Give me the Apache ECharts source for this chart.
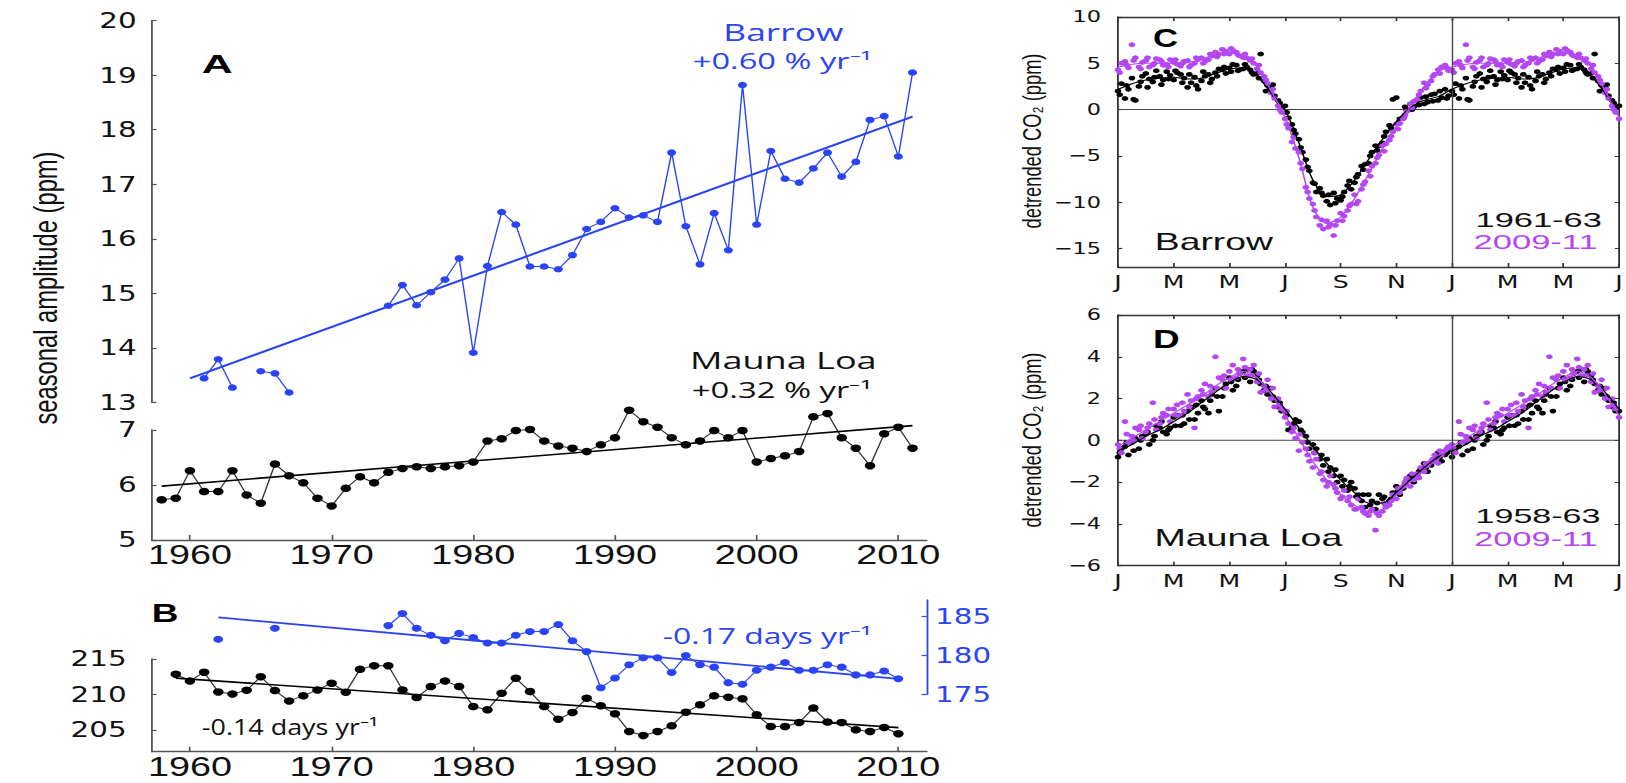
<!DOCTYPE html>
<html>
<head>
<meta charset="utf-8">
<title>Seasonal CO2 amplitude and phase</title>
<script src="https://cdn.jsdelivr.net/npm/echarts@6/dist/echarts.min.js"></script>
<style>
  html, body { margin: 0; padding: 0; background: #fff; overflow: hidden; }
  #stage { position: relative; width: 1626px; height: 783px; overflow: hidden; background: #fff; }
  #chart { position: absolute; left: 0; top: 0; height: 783px; transform-origin: 0 0; }
</style>
</head>
<body>
<div id="stage"><div id="chart"></div></div>
<script>
// ---------------------------------------------------------------------------
// Data
// ---------------------------------------------------------------------------
const range = (a, b) => Array.from({ length: b - a + 1 }, (_, i) => a + i);

// Panel A: seasonal amplitude (ppm)
const barrowAmpYears = range(1961, 2011);
const barrowAmp = [
  13.44, 13.79, 13.27, null, 13.57, 13.53, 13.18, null, null, null,   // 1961-1970
  null, null, null, 14.77, 15.15, 14.78, 15.02, 15.25, 15.64, 13.91,  // 1971-1980
  15.50, 16.49, 16.26, 15.49, 15.49, 15.44, 15.70, 16.18, 16.31, 16.56, // 1981-1990
  16.39, 16.43, 16.31, 17.58, 16.23, 15.53, 16.47, 15.79, 18.82, 16.26, // 1991-2000
  17.61, 17.10, 17.03, 17.29, 17.58, 17.14, 17.41, 18.18, 18.25, 17.51, // 2001-2010
  19.05                                                                // 2011
];
const barrowAmpTrend = [[1960, 13.44], [2011, 18.24]];

const mloAmpYears = range(1958, 2011);
const mloAmp = [
  5.73, 5.76,                                                   // 1958-1959
  6.26, 5.88, 5.88, 6.26, 5.82, 5.67, 6.38, 6.17, 6.04, 5.76,   // 1960-1969
  5.62, 5.94, 6.15, 6.04, 6.23, 6.30, 6.33, 6.30, 6.33, 6.35,   // 1970-1979
  6.42, 6.80, 6.84, 6.99, 7.01, 6.80, 6.71, 6.67, 6.61, 6.73,   // 1980-1989
  6.86, 7.36, 7.15, 7.05, 6.86, 6.73, 6.80, 6.99, 6.86, 6.99,   // 1990-1999
  6.42, 6.48, 6.53, 6.61, 7.24, 7.30, 6.86, 6.67, 6.35, 6.93,   // 2000-2009
  7.05, 6.67                                                    // 2010-2011
];
const mloAmpTrend = [[1958, 5.98], [2011, 7.08]];

// Panel B: phase (day of year)
const mloPhaseYears = range(1959, 2010);
const mloPhase = [
  212.85,                                                                  // 1959
  211.90, 213.13, 210.35, 210.07, 210.59, 212.50, 210.54, 209.08, 209.79, 210.63, // 1960-1969
  211.58, 210.31, 213.55, 214.06, 214.06, 210.63, 209.55, 211.10, 211.90, 211.10, // 1970-1979
  208.28, 207.82, 210.17, 212.28, 210.39, 208.28, 206.50, 207.44, 209.46, 208.38, // 1980-1989
  207.25, 204.76, 204.20, 204.76, 205.56, 207.49, 208.52, 209.79, 209.61, 209.37, // 1990-1999
  207.11, 205.46, 205.46, 206.03, 208.06, 206.08, 206.03, 205.00, 204.76, 205.32, // 2000-2009
  204.44                                                                   // 2010
];
const mloPhaseTrend = [[1959, 212.3], [2010, 205.3]];

const barrowPhaseYears = range(1962, 2010);
const barrowPhase = [
  182.1, null, null, null, 183.5, null, null, null,                 // 1962-1969
  null, null, null, null, 183.85, 185.4, 183.5, 182.6, 181.9, 182.85, // 1970-1979
  182.3, 181.6, 181.6, 182.6, 183.1, 183.1, 184.0, 181.9, 180.5, 175.85, // 1980-1989
  177.1, 178.8, 179.7, 179.7, 177.8, 180.0, 178.8, 178.5, 176.5, 176.3, // 1990-1999
  178.1, 178.5, 179.1, 178.1, 178.1, 178.8, 178.5, 177.5, 177.5, 178.0, // 2000-2009
  177.0                                                              // 2010
];
const barrowPhaseTrend = [[1962, 184.9], [2010, 177.0]];

const yearTicks = [1960, 1970, 1980, 1990, 2000, 2010];

// Panels C and D: detrended CO2 against month of year (0 = 1 Jan).
// Observations every quarter month, three interleaved sets (offsets 0, 1/16, 1/8 month).
const monthLetters = ['J', 'M', 'M', 'J', 'S', 'N', 'J', 'M', 'M', 'J'];

const brwEarlyA = [
  2.0, 1.2, 3.4, 2.5, 3.9, 3.0, 3.6, 4.1, 3.2, 3.8, 2.4, 3.5,
  3.1, 3.8, 4.0, 4.3, 4.5, 4.8, 4.4, 4.3, 3.9, 3.1, 2.3, 1.0,
  0.4, -1.6, -3.2, -5.4, -7.9, -8.5, -9.9, -9.0, -9.8, -8.2, -7.9, -6.1,
  -5.8, -3.9, -3.6, -1.7, 1.3, -0.9, 0.6, 1.0, 0.6, 1.6, 1.0, 2.2];
const brwEarlyB = [
  1.6, 2.6, 1.1, 3.0, 2.4, 3.5, 2.7, 3.3, 4.2, 2.9, 3.8, 2.6,
  4.1, 2.9, 3.6, 4.6, 4.1, 4.2, 4.9, 4.0, 3.4, 2.0, 2.7, 0.7,
  -0.3, -2.2, -4.1, -6.2, -8.0, -9.0, -9.2, -10.1, -9.4, -7.7, -7.3, -6.5,
  -5.0, -4.4, -2.9, -2.0, -1.5, 0.3, 0.0, 0.5, 1.4, 0.9, 2.0, 1.2];
const brwEarlyC = [
  2.8, 2.2, 1.0, 3.6, 3.3, 4.2, 3.2, 3.7, 4.0, 3.4, 2.9, 2.2,
  3.6, 3.3, 4.4, 3.9, 4.9, 4.3, 4.6, 3.8, 6.0, 2.6, 1.5, 0.2,
  -0.9, -2.6, -4.6, -6.6, -8.9, -9.3, -10.3, -9.6, -8.9, -8.6, -7.0, -5.9,
  -4.6, -3.9, -2.4, 1.1, -1.0, 0.0, 0.3, 1.3, 0.8, 1.7, 1.3, 1.5];
const brwLateA = [
  4.3, 5.2, 7.0, 4.6, 5.3, 4.8, 5.4, 4.9, 5.1, 4.7, 5.3, 5.0,
  5.6, 5.4, 6.2, 6.5, 6.0, 6.2, 5.6, 5.3, 4.4, 3.6, 1.8, 0.4,
  -1.0, -3.5, -4.6, -8.4, -10.2, -12.5, -12.0, -13.6, -11.2, -10.9, -9.2, -8.6,
  -6.6, -5.8, -3.9, -3.3, -1.6, -1.0, 0.6, 1.1, 2.9, 3.1, 4.3, 4.8];
const brwLateB = [
  4.0, 4.8, 5.3, 4.4, 5.6, 5.0, 5.2, 4.6, 5.4, 5.0, 4.6, 5.6,
  5.0, 6.0, 5.7, 6.0, 6.6, 5.9, 6.0, 5.5, 4.8, 3.2, 2.2, 0.0,
  -1.6, -3.0, -5.8, -8.9, -10.9, -11.9, -12.7, -12.5, -12.0, -10.4, -10.2, -8.1,
  -7.2, -5.2, -4.5, -2.9, -2.1, -0.6, 0.2, 1.6, 2.3, 3.6, 3.9, 4.5];
const brwLateC = [
  5.0, 4.5, 5.6, 5.1, 4.6, 5.5, 4.8, 5.4, 4.9, 5.2, 4.8, 5.4,
  5.2, 5.8, 6.0, 6.3, 6.4, 5.8, 5.6, 5.0, 4.0, 2.8, 1.2, -0.3,
  -2.0, -4.2, -6.4, -9.6, -11.6, -12.9, -12.4, -12.0, -11.5, -10.2, -9.9, -7.8,
  -6.1, -4.9, -3.7, -2.4, -1.5, -0.2, 0.9, 2.0, 2.7, 3.8, 4.6, 4.2];
// fitted seasonal cycles, every half month
const brwEarlyFit = [2.2, 2.8, 3.2, 3.4, 3.5, 3.3, 3.4, 3.9, 4.4, 4.5, 3.6, 1.8,
  0.0, -3.6, -7.6, -9.4, -9.2, -7.6, -5.4, -3.2, -1.3, 0.2, 1.0, 1.4];
const brwLateFit = [4.6, 4.9, 5.0, 5.0, 5.0, 5.1, 5.4, 6.0, 6.1, 5.7, 4.6, 2.0,
  -0.8, -5.2, -10.5, -12.3, -11.6, -9.6, -7.0, -4.2, -1.9, 0.3, 2.5, 4.1];

const mloEarlyA = [
  -0.8, -0.3, -0.1, -0.4, 0.3, 0.0, 0.6, 0.3, 1.1, 0.7, 1.4, 1.0,
  1.9, 1.3, 2.5, 2.1, 3.0, 2.6, 3.3, 2.8, 3.1, 2.4, 2.5, 1.6,
  1.4, 0.6, 0.9, 0.2, -0.2, -0.9, -0.9, -1.7, -1.7, -2.4, -2.3, -2.9,
  -2.6, -3.3, -2.8, -2.9, -2.2, -2.3, -1.7, -1.7, -1.1, -1.2, -0.6, -0.7];
const mloEarlyB = [
  -0.6, -0.1, -0.5, 0.0, 0.4, 0.2, 0.9, 0.5, 0.7, 1.2, 1.0, 1.7,
  1.6, 1.9, 2.1, 2.5, 2.8, 2.9, 3.0, 3.4, 2.9, 2.6, 2.1, 1.8,
  1.2, 0.8, 0.5, -0.1, -0.6, -0.7, -1.5, -1.4, -2.2, -2.2, -2.7, -2.6,
  -3.1, -3.0, -2.7, -2.8, -2.4, -2.1, -1.8, -1.5, -1.3, -1.0, -0.8, -0.6];
const mloEarlyC = [
  -0.4, -0.7, 0.1, 0.2, -0.2, 0.7, 0.4, 0.6, 1.2, 0.8, 1.6, 1.3,
  1.5, 2.2, 1.4, 2.7, 2.4, 3.2, 3.4, 3.3, 2.7, 2.2, 1.9, 1.4,
  0.5, 1.0, 0.4, -0.4, -0.4, -1.2, -1.3, -2.0, -1.9, -2.0, -2.6, -3.2,
  -2.9, -2.6, -3.1, -2.5, -2.6, -1.9, -2.0, -1.4, -1.5, -0.9, -1.0, -0.4];
const mloLateA = [
  -0.2, 0.9, 0.2, 0.5, 0.4, 1.8, 0.8, 1.2, 1.5, 1.2, 2.2, 0.6,
  2.4, 2.1, 4.0, 2.9, 3.3, 3.0, 3.9, 3.4, 2.8, 2.6, 2.0, 2.0,
  1.1, 0.4, -0.5, -0.4, -1.3, -1.6, -2.2, -2.1, -2.8, -2.9, -3.3, -3.2,
  -3.6, -4.3, -3.4, -3.1, -2.8, -2.2, -2.2, -1.6, -1.5, -1.0, -1.1, -0.5];
const mloLateB = [
  -0.4, 0.3, 0.0, 0.7, 0.6, 1.0, 1.1, 1.5, 1.2, 1.8, 1.6, 2.0,
  2.2, 2.6, 2.5, 3.1, 2.9, 3.4, 3.5, 3.1, 3.2, 2.4, 2.5, 1.7,
  1.4, 0.6, 0.3, -0.7, -0.6, -1.5, -2.0, -2.3, -2.7, -2.7, -3.3, -3.4,
  -3.4, -3.5, -3.0, -2.9, -2.3, -2.0, -1.6, -1.8, -1.1, -0.9, -0.5, -0.4];
const mloLateC = [
  -0.6, -0.1, 0.6, 0.1, 0.8, 0.5, 1.3, 0.9, 1.7, 1.4, 1.9, 2.1,
  2.7, 2.3, 3.0, 2.5, 3.6, 3.2, 3.1, 3.6, 2.3, 2.9, 1.6, 1.5,
  0.8, 0.1, -0.1, -1.0, -0.9, -1.9, -1.7, -2.5, -2.4, -3.1, -2.8, -3.5,
  -3.3, -3.6, -3.2, -2.6, -2.5, -1.8, -1.9, -1.3, -1.2, -0.7, -0.7, -0.3];
const mloEarlyFit = [-0.5, -0.2, 0.2, 0.5, 0.9, 1.3, 1.8, 2.3, 2.75, 3.05, 2.9, 2.3,
  1.5, 0.6, -0.3, -1.1, -1.9, -2.5, -3.0, -3.0, -2.5, -1.9, -1.3, -0.8];
const mloLateFit = [-0.3, 0.1, 0.5, 0.9, 1.3, 1.7, 2.1, 2.6, 3.0, 3.3, 3.0, 2.2,
  1.2, 0.1, -1.0, -1.9, -2.6, -3.1, -3.45, -3.3, -2.6, -2.0, -1.4, -0.9];

// ---------------------------------------------------------------------------
// Layout: the figure is drawn narrow and stretched sideways by K.
// ---------------------------------------------------------------------------
const K = 1.4;
const PAGE_W = 1626;
const X = v => v / K;               // page x  ->  chart x
const chartEl = document.getElementById('chart');
chartEl.style.width = (PAGE_W / K) + 'px';
chartEl.style.transform = 'scaleX(' + K + ')';

const BLUE = '#2a44f5';
const MAGENTA = '#b447f2';
const INK = '#111';
const AXIS = '#555';

// helpers -------------------------------------------------------------------
const pairs = (xs, ys) => xs.map((x, i) => [x, ys[i] == null ? '-' : ys[i]]);

// one year of observations, with January–July shown again after the year boundary
function seasonalPoints(sets) {
  const pts = [];
  sets.forEach((vals, k) => vals.forEach((v, i) => pts.push([i * 0.25 + k * 0.0625, v])));
  const again = pts.filter(p => p[0] <= 6).map(p => [p[0] + 12, p[1]]);
  return pts.concat(again);
}
function seasonalCurve(fit) {
  const pts = fit.map((v, i) => [i * 0.5, v]);
  const again = pts.filter(p => p[0] <= 6).map(p => [p[0] + 12, p[1]]);
  return pts.concat(again);
}
const minus = v => (v < 0 ? '\u2212' + (-v) : String(v));

const axisLine = (color) => ({ show: true, onZero: false, lineStyle: { color: color || AXIS, width: 1.3 } });
const tick = (len, vals, color) => {
  const t = { show: true, inside: true, length: len, lineStyle: { color: color || AXIS, width: 1.2 } };
  if (vals) t.customValues = vals;
  return t;
};

// grids ---------------------------------------------------------------------
const gLeft = X(151.7), gWidth = X(775);
const grids = [
  { left: gLeft, top: 20.7, width: gWidth, height: 381.6 },   // A Barrow
  { left: gLeft, top: 430, width: gWidth, height: 110 },      // A Mauna Loa
  { left: gLeft, top: 659, width: gWidth, height: 92.7 },     // B Mauna Loa
  { left: gLeft, top: 600, width: gWidth, height: 94.3 },     // B Barrow
  { left: X(1118), top: 17, width: X(501), height: 250 },     // C
  { left: X(1118), top: 315, width: X(501), height: 250.7 }   // D
].map(g => Object.assign({ containLabel: false, outerBoundsMode: 'none' }, g));

const yearMin = 1957.3, yearMax = 2012;
const yearLabel = {
  customValues: yearTicks, fontSize: 27, fontFamily: 'Liberation Sans', color: INK, margin: 1,
  formatter: v => String(v)
};
const monthAxis = (grid, pos, labels) => ({
  gridIndex: grid, type: 'value', position: pos, min: 0, max: 18, interval: 2,
  axisLine: axisLine('#333'), axisTick: tick(4, null, '#333'), splitLine: { show: false },
  axisLabel: labels ? {
    show: true, fontSize: 18, fontFamily: 'DejaVu Sans', color: INK, margin: 6,
    formatter: v => monthLetters[Math.round(v / 2)]
  } : { show: false }
});

const xAxes = [
  { gridIndex: 0, type: 'value', min: yearMin, max: yearMax, show: false },
  { gridIndex: 1, type: 'value', min: yearMin, max: yearMax, axisLine: axisLine(),
    axisTick: tick(5, yearTicks), axisLabel: yearLabel, splitLine: { show: false } },
  { gridIndex: 2, type: 'value', min: yearMin, max: yearMax, axisLine: axisLine(),
    axisTick: tick(5, yearTicks), axisLabel: yearLabel, splitLine: { show: false } },
  { gridIndex: 3, type: 'value', min: yearMin, max: yearMax, show: false },
  monthAxis(4, 'bottom', true), monthAxis(4, 'top', false),
  monthAxis(5, 'bottom', true), monthAxis(5, 'top', false)
];

const leftLabel = (margin, vals, color) => {
  const l = { fontSize: 21, fontFamily: 'DejaVu Sans', color: color || INK, margin: X(margin) };
  if (vals) l.customValues = vals;
  return l;
};
const co2Axis = (grid, pos, min, max, vals, labels) => ({
  gridIndex: grid, type: 'value', position: pos, min: min, max: max,
  axisLine: axisLine('#333'), axisTick: tick(3, vals, '#333'), splitLine: { show: false },
  axisLabel: labels ? { show: true, customValues: vals, fontSize: 16, fontFamily: 'DejaVu Sans',
    color: INK, margin: X(17), formatter: minus } : { show: false }
});
const cTicks = [-15, -10, -5, 0, 5, 10];
const dTicks = [-6, -4, -2, 0, 2, 4, 6];

const yAxes = [
  { gridIndex: 0, type: 'value', min: 13, max: 20, interval: 1, axisLine: axisLine(),
    axisTick: tick(3.5), axisLabel: leftLabel(15), splitLine: { show: false } },
  { gridIndex: 1, type: 'value', min: 5, max: 7, interval: 1, axisLine: axisLine(),
    axisTick: tick(3.5), axisLabel: leftLabel(15), splitLine: { show: false } },
  { gridIndex: 2, type: 'value', min: 201.9, max: 215, axisLine: axisLine(),
    axisTick: tick(3.5, [205, 210, 215]), axisLabel: leftLabel(25, [205, 210, 215]),
    splitLine: { show: false } },
  { gridIndex: 3, type: 'value', position: 'right', min: 175, max: 187.15,
    axisLine: axisLine(BLUE), axisTick: tick(3.5, [175, 180, 185], BLUE),
    axisLabel: leftLabel(8.3, [175, 180, 185], BLUE), splitLine: { show: false } },
  co2Axis(4, 'left', -17, 10, cTicks, true), co2Axis(4, 'right', -17, 10, cTicks, false),
  co2Axis(5, 'left', -6, 6, dTicks, true), co2Axis(5, 'right', -6, 6, dTicks, false)
];

// series ---------------------------------------------------------------------
const dotted = (name, xi, yi, data, color, size, lineColor) => ({
  name, type: 'line', xAxisIndex: xi, yAxisIndex: yi, data, connectNulls: false, clip: false,
  symbol: 'circle', symbolSize: size, showSymbol: true,
  itemStyle: { color: color, borderWidth: 0 },
  lineStyle: { color: lineColor || color, width: 1 }, z: 3, silent: true
});
const trend = (xi, yi, data, color, width) => ({
  type: 'line', xAxisIndex: xi, yAxisIndex: yi, data, symbol: 'none', clip: false,
  lineStyle: { color, width }, z: 4, silent: true
});
const cloud = (xi, yi, data, color) => ({
  type: 'scatter', xAxisIndex: xi, yAxisIndex: yi, data, symbol: 'circle', symbolSize: 4.8,
  itemStyle: { color, opacity: 1 }, z: 3, silent: true
});
const curve = (xi, yi, data, color) => ({
  type: 'line', xAxisIndex: xi, yAxisIndex: yi, data, symbol: 'none', smooth: 0.3,
  lineStyle: { color, width: 1.1 }, z: 5, silent: true
});
const refLines = (xi, yi) => ({
  type: 'line', xAxisIndex: xi, yAxisIndex: yi, data: [[0, 0], [18, 0]], symbol: 'none',
  lineStyle: { color: '#444', width: 1 }, z: 2, silent: true,
  markLine: { silent: true, symbol: ['none', 'none'], label: { show: false },
    lineStyle: { color: '#444', width: 1, type: 'solid' }, data: [{ xAxis: 12 }] }
});

const series = [
  dotted('Barrow amplitude', 0, 0, pairs(barrowAmpYears, barrowAmp), BLUE, 6.5),
  trend(0, 0, barrowAmpTrend, BLUE, 2),
  dotted('Mauna Loa amplitude', 1, 1, pairs(mloAmpYears, mloAmp), '#000', 7.5, '#333'),
  trend(1, 1, mloAmpTrend, '#000', 1.6),
  dotted('Mauna Loa phase', 2, 2, pairs(mloPhaseYears, mloPhase), '#000', 7.5, '#333'),
  trend(2, 2, mloPhaseTrend, '#000', 1.6),
  dotted('Barrow phase', 3, 3, pairs(barrowPhaseYears, barrowPhase), BLUE, 7),
  trend(3, 3, barrowPhaseTrend, BLUE, 1.8),

  refLines(4, 4),
  cloud(4, 4, seasonalPoints([brwEarlyA, brwEarlyB, brwEarlyC]), '#000'),
  cloud(4, 4, seasonalPoints([brwLateA, brwLateB, brwLateC]), MAGENTA),
  curve(4, 4, seasonalCurve(brwEarlyFit), '#000'),
  curve(4, 4, seasonalCurve(brwLateFit), MAGENTA),

  refLines(6, 6),
  cloud(6, 6, seasonalPoints([mloEarlyA, mloEarlyB, mloEarlyC]), '#000'),
  cloud(6, 6, seasonalPoints([mloLateA, mloLateB, mloLateC]), MAGENTA),
  curve(6, 6, seasonalCurve(mloEarlyFit), '#000'),
  curve(6, 6, seasonalCurve(mloLateFit), MAGENTA)
];

// text ----------------------------------------------------------------------
const measure = document.createElement('canvas').getContext('2d');
function note(text, cx, cy, font, color, pageWidth) {
  measure.font = font;
  const w = measure.measureText(text).width;
  return {
    type: 'text', x: X(cx), y: cy, scaleX: pageWidth ? pageWidth / (K * w) : 1, silent: true, z: 100,
    style: { text, font, fill: color, align: 'center', verticalAlign: 'middle' }
  };
}
function sideTitle(text, cx, cy, font, length) {
  measure.font = font;
  const w = measure.measureText(text).width;
  return {
    type: 'text', x: X(cx), y: cy, rotation: Math.PI / 2, scaleX: length / w, silent: true, z: 100,
    style: { text, font, fill: INK, align: 'center', verticalAlign: 'middle' }
  };
}
const HEAD = 'bold 25px "Liberation Sans"';
const graphics = [
  note('A', 217.2, 64, HEAD, '#000', 31),
  note('B', 165, 613.3, HEAD, '#000', 26.7),
  note('C', 1165.5, 38.7, HEAD, '#000', 25),
  note('D', 1166.3, 339.2, HEAD, '#000', 26.7),

  note('Barrow', 783.3, 32, '24px "Open Sans"', BLUE, 120),
  note('+0.60 % yr\u207B\u00B9', 782.2, 60.8, '21px "Open Sans"', BLUE, 179),
  note('Mauna Loa', 783.3, 360, '23px "Open Sans"', INK, 186.7),
  note('+0.32 % yr\u207B\u00B9', 781.7, 390, '21px "Open Sans"', INK, 180),
  note('-0.14 days yr\u207B\u00B9', 290, 726.7, '21px "Open Sans"', INK, 176.6),
  note('-0.17 days yr\u207B\u00B9', 767.2, 635.8, '21px "Open Sans"', BLUE, 209),

  note('Barrow', 1213.9, 242, '23px "Liberation Sans"', INK, 118.3),
  note('1961-63', 1538.7, 219.2, '21px "Liberation Sans"', INK, 126.5),
  note('2009-11', 1535.6, 241.3, '21px "Liberation Sans"', MAGENTA, 124.3),
  note('Mauna Loa', 1248.4, 538.7, '23px "Liberation Sans"', INK, 188),
  note('1958-63', 1538, 515.5, '21px "Liberation Sans"', INK, 125),
  note('2009-11', 1536, 538.3, '21px "Liberation Sans"', MAGENTA, 123.5),

  sideTitle('seasonal amplitude (ppm)', 45, 288, '24px "Liberation Sans"', 273),
  sideTitle('detrended CO\u2082 (ppm)', 1032, 141, '18px "Liberation Sans"', 175),
  sideTitle('detrended CO\u2082 (ppm)', 1032, 440, '18px "Liberation Sans"', 175)
];

const chart = echarts.init(chartEl, null, { renderer: 'svg' });
chart.setOption({
  backgroundColor: '#fff',
  animation: false,
  textStyle: { fontFamily: 'Liberation Sans' },
  grid: grids,
  xAxis: xAxes,
  yAxis: yAxes,
  series: series,
  graphic: graphics
});
</script>
</body>
</html>
